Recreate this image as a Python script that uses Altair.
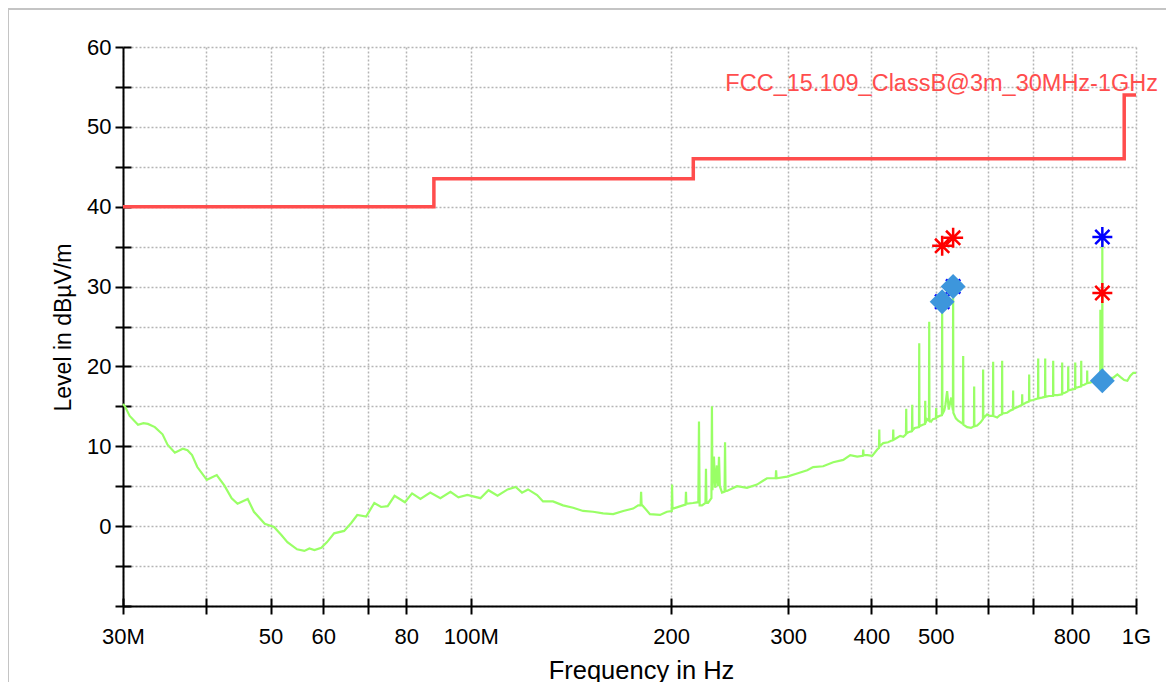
import altair as alt
import pandas as pd

FONT = "Liberation Sans"

# ---- measured trace (frequency in MHz, level in dBuV/m) ----
trace_freq = [
    30.0, 30.2, 30.7, 31.6, 32.2, 32.7, 33.5, 34.4, 35.0, 35.9, 36.9, 37.5, 38.1, 38.8,
    40.1, 41.5, 42.6, 43.7, 44.6, 46.2, 47.2, 49.0, 50.6, 51.9, 53.0, 54.8, 56.2, 57.2,
    58.2, 59.6, 60.8, 62.3, 64.5, 66.1, 67.5, 69.6, 71.6, 73.3, 75.0, 76.8, 79.6, 81.6,
    84.0, 86.9, 90.0, 93.2, 95.8, 98.8, 103.4, 106.3, 109.7, 113.6, 116.8, 119.4, 121.9,
    125.8, 128.4, 132.9, 137.6, 142.5, 147.5, 152.7, 158.1, 163.7, 169.5, 175.4, 178.5,
    180.0, 180.3, 180.6, 181.6, 185.9, 192.5, 197.2, 200.5, 200.7, 201.0, 201.4, 208.4,
    210.3, 210.6, 210.9, 215.7, 219.8, 220.3, 220.8, 222.6, 225.3, 225.7, 226.1, 227.3,
    229.0, 230.0, 230.4, 230.8, 232.0, 233.0, 234.4, 235.3, 236.1, 236.8, 238.6, 240.7,
    241.1, 241.5, 242.7, 251.3, 260.1, 269.3, 278.8, 287.3, 287.7, 288.2, 298.9, 309.4,
    320.4, 327.1, 338.6, 350.6, 363.0, 371.9, 381.0, 388.5, 389.0, 389.5, 394.5, 401.3,
    408.3, 410.8, 411.2, 411.6, 416.9, 424.0, 431.2, 431.6, 432.0, 436.0, 442.1, 447.0,
    451.0, 451.4, 451.8, 456.0, 460.5, 460.9, 461.3, 465.0, 471.8, 472.2, 472.6, 478.0,
    481.7, 482.1, 482.5, 485.0, 488.4, 488.8, 489.2, 492.0, 495.0, 500.3, 500.7, 501.1,
    506.0, 510.8, 511.2, 511.6, 515.0, 517.0, 520.1, 523.0, 527.4, 530.6, 531.0, 531.4,
    536.0, 540.3, 549.4, 549.8, 550.2, 557.4, 565.0, 570.7, 571.1, 571.5, 577.0, 584.0,
    588.7, 589.1, 589.5, 597.3, 603.0, 609.5, 609.9, 610.3, 618.4, 624.0, 628.8, 629.2,
    629.6, 640.2, 648.0, 653.2, 653.6, 654.0, 662.8, 674.0, 674.4, 674.8, 685.0, 690.5,
    690.9, 691.3, 700.0, 712.4, 712.8, 713.2, 722.0, 729.9, 730.3, 730.7, 740.0, 750.4,
    750.8, 751.2, 762.0, 774.1, 774.5, 774.9, 782.0, 790.5, 790.9, 791.3, 800.0, 809.9,
    810.3, 810.7, 818.0, 826.9, 827.3, 827.7, 836.0, 844.2, 844.6, 845.0, 855.0, 865.0,
    875.0, 883.6, 884.0, 884.4, 889.6, 890.0, 890.4, 900.0, 912.0, 924.5, 937.4, 950.0,
    960.0, 970.5, 980.0, 990.8, 1000.0,
]
trace_level = [
    15.3, 15.0, 13.8, 12.7, 12.9, 12.8, 12.4, 11.5, 10.2, 9.2, 9.7, 9.5, 8.9, 7.4,
    5.8, 6.4, 5.1, 3.5, 2.8, 3.4, 1.8, 0.3, -0.1, -1.1, -2.0, -2.9, -3.1, -2.8,
    -3.0, -2.7, -2.0, -0.9, -0.6, 0.4, 1.4, 1.2, 2.9, 2.4, 2.5, 3.8, 3.0, 4.1,
    3.4, 4.2, 3.5, 4.3, 3.6, 3.9, 3.5, 4.5, 3.8, 4.6, 4.9, 4.2, 4.6,
    3.9, 3.1, 3.1, 2.6, 2.3, 1.9, 1.8, 1.6, 1.5, 1.9, 2.2, 2.6,
    2.6, 4.3, 2.7, 2.5, 1.5, 1.4, 1.8, 1.9, 5.2, 2.2, 2.2, 2.6,
    2.7, 4.3, 2.8, 2.9, 3.0, 13.1, 2.6, 2.6, 2.9, 7.2, 2.9, 2.9,
    3.3, 3.5, 15.0, 4.5, 8.7, 4.8, 7.6, 5.0, 8.7, 5.0, 4.2, 4.3,
    10.5, 4.4, 4.4, 5.0, 4.8, 5.2, 6.0, 6.0, 7.0, 6.0, 6.2, 6.6,
    7.0, 7.4, 7.5, 8.0, 8.3, 8.9, 8.7, 8.8, 9.6, 8.9, 8.9, 8.8,
    9.6, 9.8, 12.1, 10.0, 10.4, 10.5, 10.8, 12.1, 10.8, 11.0, 11.3, 11.2,
    11.5, 14.7, 11.6, 11.8, 11.9, 15.2, 12.0, 12.3, 12.4, 22.9, 12.5, 12.7,
    12.8, 15.7, 12.9, 13.4, 13.2, 25.6, 13.3, 13.1, 13.4, 13.5, 14.8, 13.6,
    13.8, 13.9, 28.1, 14.0, 14.5, 15.2, 16.9, 14.6, 16.1, 14.5, 30.0, 14.2,
    13.5, 13.2, 12.8, 21.3, 12.7, 12.4, 12.3, 12.5, 17.5, 12.5, 12.6, 13.0,
    13.4, 19.6, 13.5, 14.0, 13.8, 13.8, 20.6, 13.8, 13.6, 13.9, 14.0, 20.7,
    14.1, 14.2, 14.5, 14.6, 17.0, 14.7, 14.9, 15.2, 16.5, 15.2, 15.5, 15.6,
    19.0, 15.7, 15.8, 16.0, 21.0, 16.0, 16.1, 16.2, 21.0, 16.2, 16.3, 16.3,
    20.7, 16.4, 16.4, 16.5, 20.5, 16.6, 16.7, 16.9, 20.0, 17.0, 17.1, 17.2,
    20.5, 17.3, 17.4, 17.5, 20.7, 17.6, 17.7, 17.9, 19.5, 17.9, 18.0, 18.2,
    18.1, 18.2, 27.1, 18.3, 18.2, 36.2, 18.3, 18.4, 18.5, 18.6, 19.0, 18.6,
    18.3, 18.2, 18.8, 19.2, 19.2,
]

# ---- limit line FCC 15.109 Class B @3m ----
limit_freq = [30, 88, 88, 216, 216, 960, 960, 1000]
limit_level = [40, 40, 43.5, 43.5, 46, 46, 54, 54]
limit_name = "FCC_15.109_ClassB@3m_30MHz-1GHz"

# ---- final measurement markers ----
mark_freq = [511.2, 531.0, 890.0]
peak_level = [35.1, 36.1, 29.2]   # red asterisks
qp_level = [28.1, 30.0, 36.2]     # blue asterisks
avg_level = [28.1, 30.0, 18.2]    # blue diamonds

x_ticks = [30, 40, 50, 60, 70, 80, 100, 200, 300, 400, 500, 600, 700, 800, 1000]
y_ticks = [-10, -5, 0, 5, 10, 15, 20, 25, 30, 35, 40, 45, 50, 55, 60]

trace_df = pd.DataFrame({"f": trace_freq, "lvl": trace_level, "i": range(len(trace_freq))})
limit_df = pd.DataFrame({"f": limit_freq, "lvl": limit_level, "i": range(len(limit_freq))})
peak_df = pd.DataFrame({"f": mark_freq, "lvl": peak_level})
qp_df = pd.DataFrame({"f": mark_freq, "lvl": qp_level})
avg_df = pd.DataFrame({"f": mark_freq, "lvl": avg_level})
label_df = pd.DataFrame({"f": [limit_freq[-1]], "lvl": [limit_level[-1]], "t": [limit_name]})

xscale = alt.Scale(type="log", domain=[30, 1000], nice=False)
yscale = alt.Scale(domain=[-10, 60], nice=False, zero=False)

x_label_expr = (
    "datum.value == 30 ? '30M' : datum.value == 100 ? '100M' : datum.value == 1000 ? '1G' : "
    "(datum.value == 40 || datum.value == 70 || datum.value == 600 || datum.value == 700) ? '' : "
    "format(datum.value, 'd')"
)
y_label_expr = "(datum.value % 10 == 0 && datum.value >= 0) ? datum.label : ''"

GRID = dict(grid=True, gridDash=[2, 2], gridColor="#b5b5b5", gridWidth=1.5)
TICK = dict(tickColor="black", tickWidth=2, tickSize=8)

x_main = alt.Axis(
    values=x_ticks, labelExpr=x_label_expr, orient="bottom",
    domainColor="black", domainWidth=2, **TICK, **GRID,
    labelFont=FONT, labelFontSize=22, labelColor="black", labelPadding=12,
    labelFlush=False, labelOverlap=False,
    title="Frequency in Hz", titleFont=FONT, titleFontSize=25.5, titleFontWeight="normal",
    titleColor="black", titleX=518, titleY=72, titleBaseline="alphabetic", titleAlign="center",
)
y_main = alt.Axis(
    values=y_ticks, labelExpr=y_label_expr, orient="left",
    domainColor="black", domainWidth=2, **TICK, **GRID,
    labelFont=FONT, labelFontSize=22, labelColor="black", labelPadding=4,
    labelOverlap=False,
    title="Level in dBµV/m", titleFont=FONT, titleFontSize=23, titleFontWeight="normal",
    titleColor="black", titleX=-48, titleY=280, titleAngle=270, titleBaseline="bottom",
    titleAlign="center",
)
x_inner = alt.Axis(values=x_ticks, orient="bottom", offset=-8, domain=False, labels=False,
                   grid=False, title=None, **TICK)
y_inner = alt.Axis(values=y_ticks, orient="left", offset=-8, domain=False, labels=False,
                   grid=False, title=None, **TICK)

trace = alt.Chart(trace_df).mark_line(color="#99ff66", strokeWidth=2.2).encode(
    x=alt.X("f:Q", scale=xscale, axis=x_main),
    y=alt.Y("lvl:Q", scale=yscale, axis=y_main),
    order="i:Q",
)

limit = alt.Chart(limit_df).mark_line(color="#ff4d4d", strokeWidth=3.5).encode(
    x=alt.X("f:Q", scale=xscale, axis=x_inner),
    y=alt.Y("lvl:Q", scale=yscale, axis=y_inner),
    order="i:Q",
)

limit_label = alt.Chart(label_df).mark_text(
    color="#ff4d4d", font=FONT, fontSize=23.5, align="right", baseline="alphabetic", dx=22, dy=-4
).encode(
    x=alt.X("f:Q", scale=xscale, axis=None),
    y=alt.Y("lvl:Q", scale=yscale, axis=None),
    text="t:N",
)

ASTER = "M-1,0L1,0M0,-1L0,1M-0.71,-0.71L0.71,0.71M-0.71,0.71L0.71,-0.71"

qp = alt.Chart(qp_df).mark_point(shape=ASTER, filled=False, size=400, strokeWidth=2.5,
                                 color="#0000ff", opacity=1).encode(
    x=alt.X("f:Q", scale=xscale, axis=None),
    y=alt.Y("lvl:Q", scale=yscale, axis=None),
)
avg = alt.Chart(avg_df).mark_point(shape="diamond", filled=True, size=620,
                                   color="#3d96dc", opacity=1).encode(
    x=alt.X("f:Q", scale=xscale, axis=None),
    y=alt.Y("lvl:Q", scale=yscale, axis=None),
)
peak = alt.Chart(peak_df).mark_point(shape=ASTER, filled=False, size=400, strokeWidth=2.5,
                                     color="#ff0000", opacity=1).encode(
    x=alt.X("f:Q", scale=xscale, axis=None),
    y=alt.Y("lvl:Q", scale=yscale, axis=None),
)

frame_src = alt.Data(values=[{}])
frame_top = alt.Chart(frame_src).mark_rule(color="#c4c4c4", strokeWidth=2).encode(
    x=alt.value(-115), x2=alt.value(1043), y=alt.value(-38)
)
frame_left = alt.Chart(frame_src).mark_rule(color="#c4c4c4", strokeWidth=2).encode(
    x=alt.value(-115), y=alt.value(-38), y2=alt.value(640)
)

chart = alt.layer(
    frame_top, frame_left, limit, trace, qp, avg, peak, limit_label
).resolve_axis(x="independent", y="independent").properties(
    width=1013, height=559,
    autosize=alt.AutoSizeParams(type="none"),
    padding={"left": 115, "top": 39, "right": 30, "bottom": 76},
    background="white",
).configure_view(stroke=None)

chart.save("out.html", embed_options={"renderer": "svg", "actions": False})
